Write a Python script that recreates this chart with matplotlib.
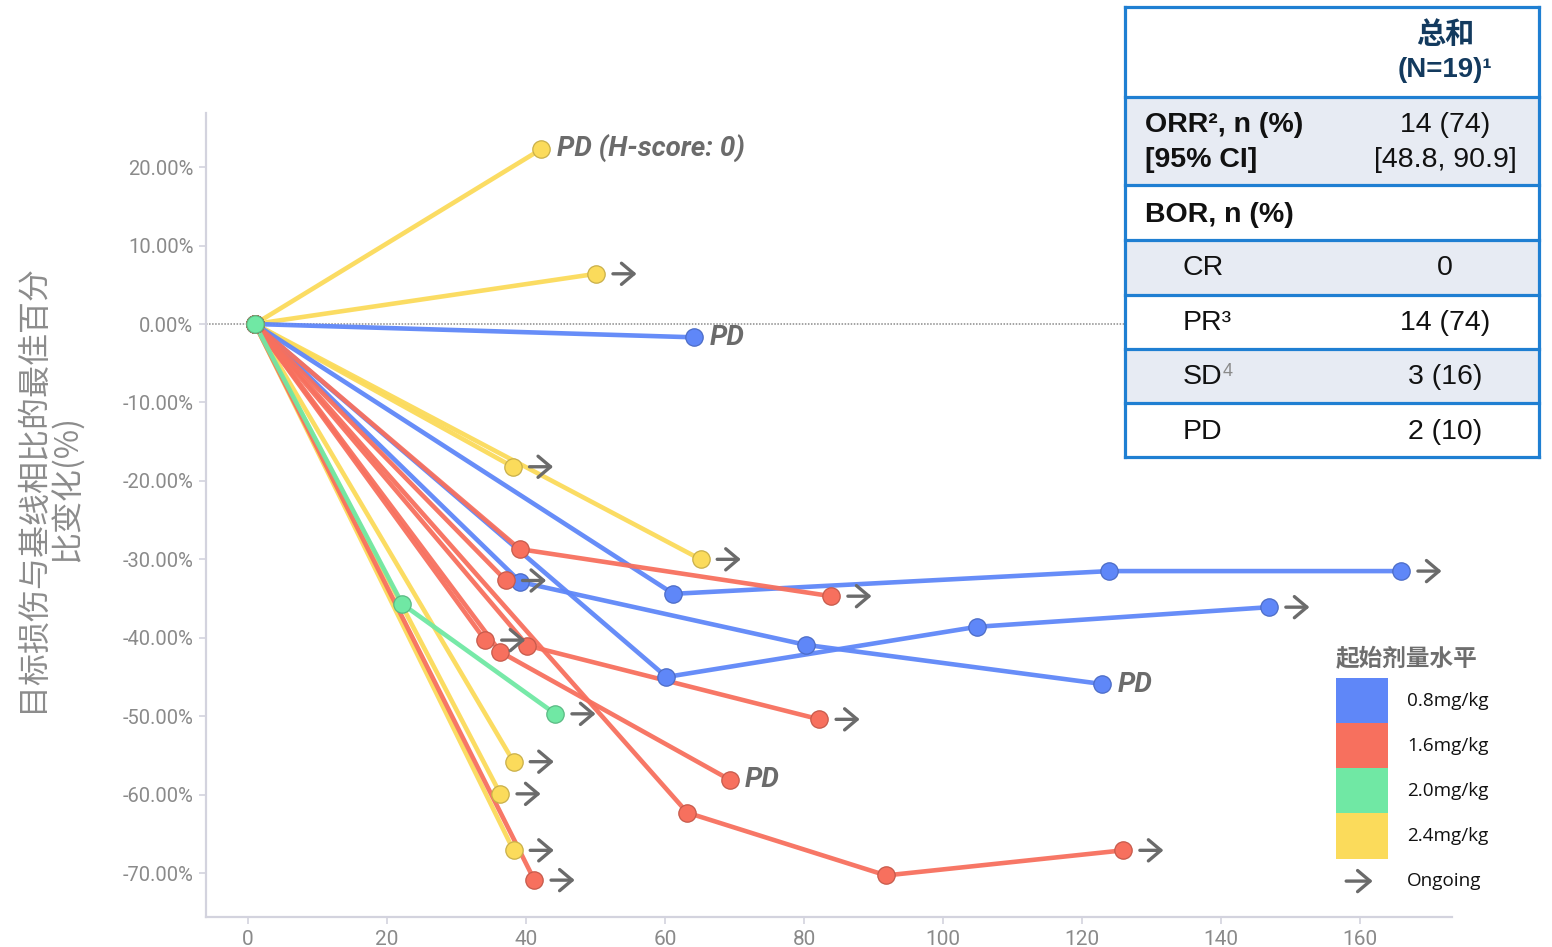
import matplotlib
matplotlib.use("Agg")
import matplotlib.pyplot as plt
from matplotlib.patches import Rectangle, Patch, FancyArrowPatch
from matplotlib.lines import Line2D
from matplotlib.legend_handler import HandlerBase
from matplotlib.transforms import offset_copy
import matplotlib.colors as mcolors

# ---------------- data ----------------
dose_labels = ["0.8mg/kg", "1.6mg/kg", "2.0mg/kg", "2.4mg/kg"]
dose_colors = ["#5f87f8", "#f7705e", "#70e8a4", "#fbdb5b"]

blue_x = [[1, 64.2], [1, 39.2, 80.2, 122.9], [1, 61.2, 123.9, 165.9], [1, 60.2, 104.9, 146.9]]
blue_y = [[0, -1.7], [0, -32.9, -40.9, -45.9], [0, -34.4, -31.5, -31.5], [0, -45.0, -38.6, -36.1]]
blue_end = ["PD", "PD", "ongoing", "ongoing"]

red_x = [[1, 39.1, 83.9], [1, 37.1], [1, 34.1], [1, 36.3, 69.3], [1, 40.2, 82.2],
         [1, 63.2, 91.8, 125.9], [1, 41.2]]
red_y = [[0, -28.7, -34.7], [0, -32.7], [0, -40.3], [0, -41.8, -58.1], [0, -41.0, -50.4],
         [0, -62.3, -70.3, -67.1], [0, -70.9]]
red_end = ["ongoing", "ongoing", "ongoing", "PD", "ongoing", "ongoing", "ongoing"]

green_x = [[1, 22.2, 44.2]]
green_y = [[0, -35.7, -49.7]]
green_end = ["ongoing"]

yellow_x = [[1, 42.2], [1, 50.1], [1, 38.1], [1, 65.1], [1, 38.2], [1, 36.3], [1, 38.2]]
yellow_y = [[0, 22.3], [0, 6.4], [0, -18.2], [0, -30.0], [0, -55.8], [0, -59.9], [0, -67.1]]
yellow_end = ["PD (H-score: 0)", "ongoing", "ongoing", "ongoing", "ongoing", "ongoing", "ongoing"]

x_ticks = [0, 20, 40, 60, 80, 100, 120, 140, 160]
y_ticks = [20, 10, 0, -10, -20, -30, -40, -50, -60, -70]

y_label = "目标损伤与基线相比的最佳百分\n比变化(%)"
legend_title = "起始剂量水平"
ongoing_label = "Ongoing"

table_header = ["总和", "(N=19)¹"]
table_rows = [
    (["ORR², n (%)", "[95% CI]"], ["14 (74)", "[48.8, 90.9]"], True, 0),
    (["BOR, n (%)"], [""], True, 0),
    (["CR"], ["0"], False, 1),
    (["PR³"], ["14 (74)"], False, 1),
    (["SD"], ["3 (16)"], False, 1),
    (["PD"], ["2 (10)"], False, 1),
]

# ---------------- figure ----------------
W, H = 1552, 947
fig = plt.figure(figsize=(W / 100, H / 100), dpi=100)
fig.patch.set_facecolor("white")


def fx(px):
    return px / W


def fy(py):
    return 1 - py / H


ax = fig.add_axes([fx(206), fy(917), fx(1452) - fx(206), fy(113) - fy(917)])
ax.set_xlim(-6.04, 173.2)
ax.set_ylim(-75.6, 26.9)

spine_c = "#d3d3de"
for s in ["top", "right"]:
    ax.spines[s].set_visible(False)
for s in ["left", "bottom"]:
    ax.spines[s].set_color(spine_c)
    ax.spines[s].set_linewidth(1.6)

ax.set_xticks(x_ticks)
ax.set_xticklabels([str(v) for v in x_ticks], fontsize=15, family="Roboto", color="#8a8a8a")
ax.set_yticks(y_ticks)
ax.set_yticklabels([f"{v:.2f}%" for v in y_ticks], fontsize=14.5, family="Roboto", color="#8a8a8a")
ax.tick_params(axis="both", color=spine_c, length=5, width=1.2)
ax.tick_params(axis="y", pad=4)
ax.tick_params(axis="x", pad=4)

ax.axhline(0, color="#8a8a8a", lw=1.1, ls=(0, (1, 1)), zorder=1)

arrow_c = "#6b6b6b"
label_c = "#6b6b6b"


def darker(c, f=0.8):
    r, g, b = mcolors.to_rgb(c)
    return (r * f, g * f, b * f)


groups = [
    (yellow_x, yellow_y, yellow_end, dose_colors[3]),
    (blue_x, blue_y, blue_end, dose_colors[0]),
    (red_x, red_y, red_end, dose_colors[1]),
    (green_x, green_y, green_end, dose_colors[2]),
]

# lines first
for xs_list, ys_list, ends, c in groups:
    for xs, ys in zip(xs_list, ys_list):
        ax.plot(xs, ys, "-", color=c, lw=3.3, alpha=0.95, zorder=2, solid_capstyle="round")

# markers on top
for xs_list, ys_list, ends, c in groups:
    for xs, ys in zip(xs_list, ys_list):
        ax.plot(xs, ys, ls="none", marker="o", ms=12.5, mfc=c, mec=darker(c), mew=0.9, zorder=3)

# end annotations
for xs_list, ys_list, ends, c in groups:
    for xs, ys, e in zip(xs_list, ys_list, ends):
        x, y = xs[-1], ys[-1]
        if e == "ongoing":
            t0 = offset_copy(ax.transData, fig=fig, x=12, y=0, units="points")
            t1 = offset_copy(ax.transData, fig=fig, x=29, y=0, units="points")
            ax.annotate("", xy=(x, y), xycoords=t1, xytext=(x, y), textcoords=t0,
                        arrowprops=dict(arrowstyle="->,head_length=0.45,head_width=0.38",
                                        color=arrow_c, lw=2.4, mutation_scale=20,
                                        shrinkA=0, shrinkB=0),
                        zorder=4, annotation_clip=False)
        else:
            ax.annotate(e, xy=(x, y), xytext=(11, 0), textcoords="offset points",
                        ha="left", va="center", fontsize=20, family="Roboto",
                        fontweight="bold", fontstyle="italic", color=label_c, zorder=4)

# y label
fig.text(fx(50), fy(488), y_label, rotation=90, ha="center", va="center",
         fontsize=23, color="#8c8c8c", family=["Noto Sans CJK SC", "DejaVu Sans"],
         linespacing=1.12, multialignment="center")


# ---------------- legend ----------------
class ArrowHandler(HandlerBase):
    def create_artists(self, legend, orig_handle, xdescent, ydescent, width, height, fontsize, trans):
        y = height / 2 - ydescent
        a = FancyArrowPatch((width * 10 / 51 - xdescent, y), (width * 36 / 51 - xdescent, y),
                            arrowstyle="->,head_length=0.45,head_width=0.38", mutation_scale=20,
                            lw=2.4, color=arrow_c, transform=trans, shrinkA=0, shrinkB=0)
        return [a]


handles = [Patch(facecolor=c, edgecolor="none", label=l) for c, l in zip(dose_colors, dose_labels)]
ong = Line2D([], [], label=ongoing_label)
handles.append(ong)
leg = fig.legend(handles=handles, loc="upper left",
                 bbox_to_anchor=(fx(1336), fy(647)), bbox_transform=fig.transFigure,
                 frameon=False, handlelength=2.75, handleheight=3.3,
                 labelspacing=0.0, handletextpad=1.0, borderpad=0, borderaxespad=0,
                 title=legend_title, alignment="left",
                 prop={"family": "Open Sans", "size": 13.6},
                 title_fontproperties={"family": "Noto Sans CJK SC", "size": 17, "weight": "bold"},
                 handler_map={ong: ArrowHandler()})
leg._legend_box.sep = 5
leg.get_title().set_color("#6e6e6e")
for t in leg.get_texts():
    t.set_color("#111111")

# ---------------- table ----------------
tb_left, tb_right = 1125, 1539
row_edges = [7, 97, 185, 240, 295, 349, 403, 457]
fills = ["white", "#e7ebf3", "white", "#e7ebf3", "white", "#e7ebf3", "white"]
border_c = "#1f7fd2"

for i, fc in enumerate(fills):
    y0, y1 = row_edges[i], row_edges[i + 1]
    fig.add_artist(Rectangle((fx(tb_left), fy(y1)), fx(tb_right) - fx(tb_left), fy(y0) - fy(y1),
                             transform=fig.transFigure, facecolor=fc, edgecolor="none", zorder=5))
for yb in row_edges:
    fig.add_artist(Line2D([fx(tb_left), fx(tb_right)], [fy(yb), fy(yb)], transform=fig.transFigure,
                          color=border_c, lw=2.3, zorder=6))
for xb in [tb_left, tb_right]:
    fig.add_artist(Line2D([fx(xb), fx(xb)], [fy(row_edges[0]), fy(row_edges[-1])],
                          transform=fig.transFigure, color=border_c, lw=2.3, zorder=6))

val_x = 1445
fam = ["Liberation Sans", "DejaVu Sans"]
fig.text(fx(val_x), fy(34), table_header[0], ha="center", va="center", fontsize=21,
         fontweight="bold", color="#133a5e", family=["Noto Sans CJK SC", "DejaVu Sans"], zorder=7)
fig.text(fx(val_x), fy(70), table_header[1], ha="center", va="center", fontsize=20,
         fontweight="bold", color="#133a5e", family=fam, zorder=7)

row_centers = [[125, 160], [215], [268], [323], [377], [432]]
for (labels, vals, bold, indent), cys in zip(table_rows, row_centers):
    lx = 1145 if indent == 0 else 1183
    for lab, cy in zip(labels, cys):
        fig.text(fx(lx), fy(cy), lab, ha="left", va="center", fontsize=20.5,
                 fontweight="bold" if bold else "normal", color="#111111", family=fam, zorder=7)
    for val, cy in zip(vals, cys):
        if val:
            fig.text(fx(val_x), fy(cy), val, ha="center", va="center", fontsize=20.5,
                     color="#111111", family=fam, zorder=7)
# grey superscript of SD
fig.text(fx(1223), fy(363), "4", ha="left", va="top", fontsize=13, color="#8a8a8a",
         family=fam, zorder=7)

fig.savefig("out.png", dpi=100, facecolor="white")
